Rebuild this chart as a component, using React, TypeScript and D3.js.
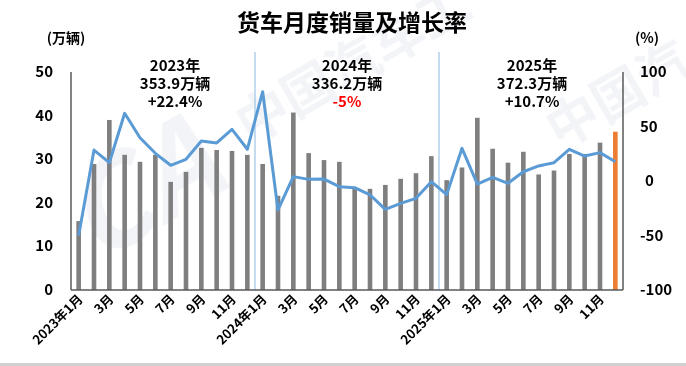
import React from 'react'
import * as d3 from 'd3'

// monthly truck sales (10k units) and YoY growth (%), 2023-01 .. 2025-12
const years = ['2023', '2024', '2025']
const monthNames = ['1月', '2月', '3月', '4月', '5月', '6月', '7月', '8月', '9月', '10月', '11月', '12月']

const sales2023 = [15.8, 28.9, 39.0, 31.0, 29.4, 31.0, 24.8, 27.1, 32.6, 32.1, 31.9, 31.0]
const sales2024 = [28.9, 21.6, 40.7, 31.4, 29.8, 29.4, 23.6, 23.2, 24.1, 25.5, 26.8, 30.7]
const sales2025 = [25.2, 28.1, 39.5, 32.4, 29.2, 31.7, 26.5, 27.4, 31.2, 31.2, 33.8, 36.3]

const growth2023 = [-50, 28.4, 16.8, 62.1, 39.7, 25.4, 14.4, 19.9, 36.7, 34.9, 47.4, 29.1]
const growth2024 = [81.9, -26.6, 4.0, 1.5, 1.8, -5.2, -6.1, -12.8, -26.0, -20.5, -15.9, -0.6]
const growth2025 = [-12.5, 30.0, -2.8, 3.4, -2.1, 8.5, 13.8, 16.8, 29.1, 22.9, 26.0, 17.7]

const yearNotes = [
  { year: '2023年', total: '353.9万辆', rate: '+22.4%', red: false },
  { year: '2024年', total: '336.2万辆', rate: '-5%', red: true },
  { year: '2025年', total: '372.3万辆', rate: '+10.7%', red: false },
]

const leftTicks = [0, 10, 20, 30, 40, 50]
const rightTicks = [-100, -50, 0, 50, 100]

const FONT = '"Noto Sans CJK SC", "Noto Sans", sans-serif'

export default function App() {
  const width = 686
  const height = 366
  const left = 71
  const right = 623
  const top = 72
  const bottom = 290

  const months = years.flatMap(y => monthNames.map(m => `${y}-${m}`))
  const sales = [...sales2023, ...sales2024, ...sales2025]
  const growth = [...growth2023, ...growth2024, ...growth2025]

  const x = d3.scaleBand<string>()
    .domain(months)
    .range([left, right])
    .paddingInner(0.7)
    .paddingOuter(0.35)
  const step = x.step()
  const cx = (m: string) => (x(m) as number) + x.bandwidth() / 2

  const yL = d3.scaleLinear().domain([0, 50]).range([bottom, top])
  const yR = d3.scaleLinear().domain([-100, 100]).range([bottom, top])

  const line = d3.line<number>()
    .x((_, i) => cx(months[i]))
    .y(d => yR(d))

  const tickLabel = (i: number) => {
    const mi = i % 12
    if (mi % 2 !== 0) return null
    return mi === 0 ? `${years[Math.floor(i / 12)]}年1月` : monthNames[mi]
  }

  return (
    <svg width={width} height={height} style={{ position: 'absolute', left: 0, top: 0, background: '#fff' }}
      fontFamily={FONT}>
      <defs>
        <clipPath id="wm"><rect x={0} y={0} width={width} height={height} /></clipPath>
      </defs>
      {/* faint watermark */}
      <g opacity={0.06} fill="#2f4f7f" fontWeight={700} clipPath="url(#wm)">
        <text transform="translate(95,265) rotate(-30)" fontSize={120} fontStyle="italic">CA</text>
        <text transform="translate(250,145) rotate(-30)" fontSize={52}>中国汽车工</text>
        <text transform="translate(560,150) rotate(-30)" fontSize={52}>中国汽</text>
      </g>

      <text x={352} y={31} textAnchor="middle" fontSize={23} fontWeight={700} fill="#000">货车月度销量及增长率</text>
      <text x={66} y={43} textAnchor="middle" fontSize={14} fontWeight={700}>(万辆)</text>
      <text x={647} y={43} textAnchor="middle" fontSize={14} fontWeight={700}>(%)</text>

      {/* year separators */}
      {[12, 24].map(i => (
        <line key={i} x1={left + i * step} x2={left + i * step} y1={52} y2={bottom}
          stroke="#9dc3e6" strokeWidth={1.2} />
      ))}

      {/* bars */}
      {sales.map((v, i) => (
        <rect key={i} x={x(months[i])} y={yL(v)} width={x.bandwidth()} height={bottom - yL(v)}
          fill={i === sales.length - 1 ? '#ed7d31' : '#7f7f7f'} />
      ))}

      {/* growth line */}
      <path d={line(growth) || ''} fill="none" stroke="#5b9bd5" strokeWidth={3} strokeLinejoin="round" />

      {/* axes */}
      <line x1={left} x2={left} y1={top} y2={bottom} stroke="#595959" strokeWidth={1.5} />
      <line x1={right} x2={right} y1={top} y2={bottom} stroke="#595959" strokeWidth={1.5} />
      <line x1={left} x2={right} y1={bottom} y2={bottom} stroke="#595959" strokeWidth={1.5} />

      {leftTicks.map(t => (
        <text key={t} x={53} y={yL(t) + 5} textAnchor="end" fontSize={15} fontWeight={700}>{t}</text>
      ))}
      {rightTicks.map(t => (
        <text key={t} x={t === 0 ? 645 : 640} y={yR(t) + 5} textAnchor="start" fontSize={15} fontWeight={700}>{t}</text>
      ))}

      {months.map((m, i) => {
        const lab = tickLabel(i)
        if (!lab) return null
        return (
          <text key={m} transform={`translate(${cx(m) + 5},${bottom + 10}) rotate(-45)`}
            textAnchor="end" fontSize={13} fontWeight={700}>{lab}</text>
        )
      })}

      {/* year notes */}
      {yearNotes.map((n, k) => {
        const mx = [175, 347, 532][k]
        return (
          <g key={n.year} textAnchor="middle" fontSize={15} fontWeight={700}>
            <text x={mx} y={71}>{n.year}</text>
            <text x={mx} y={89}>{n.total}</text>
            <text x={mx} y={107} fill={n.red ? '#ff0000' : '#000'}>{n.rate}</text>
          </g>
        )
      })}

      <rect x={0} y={363} width={width} height={3} fill="#d0d0d0" />
    </svg>
  )
}
